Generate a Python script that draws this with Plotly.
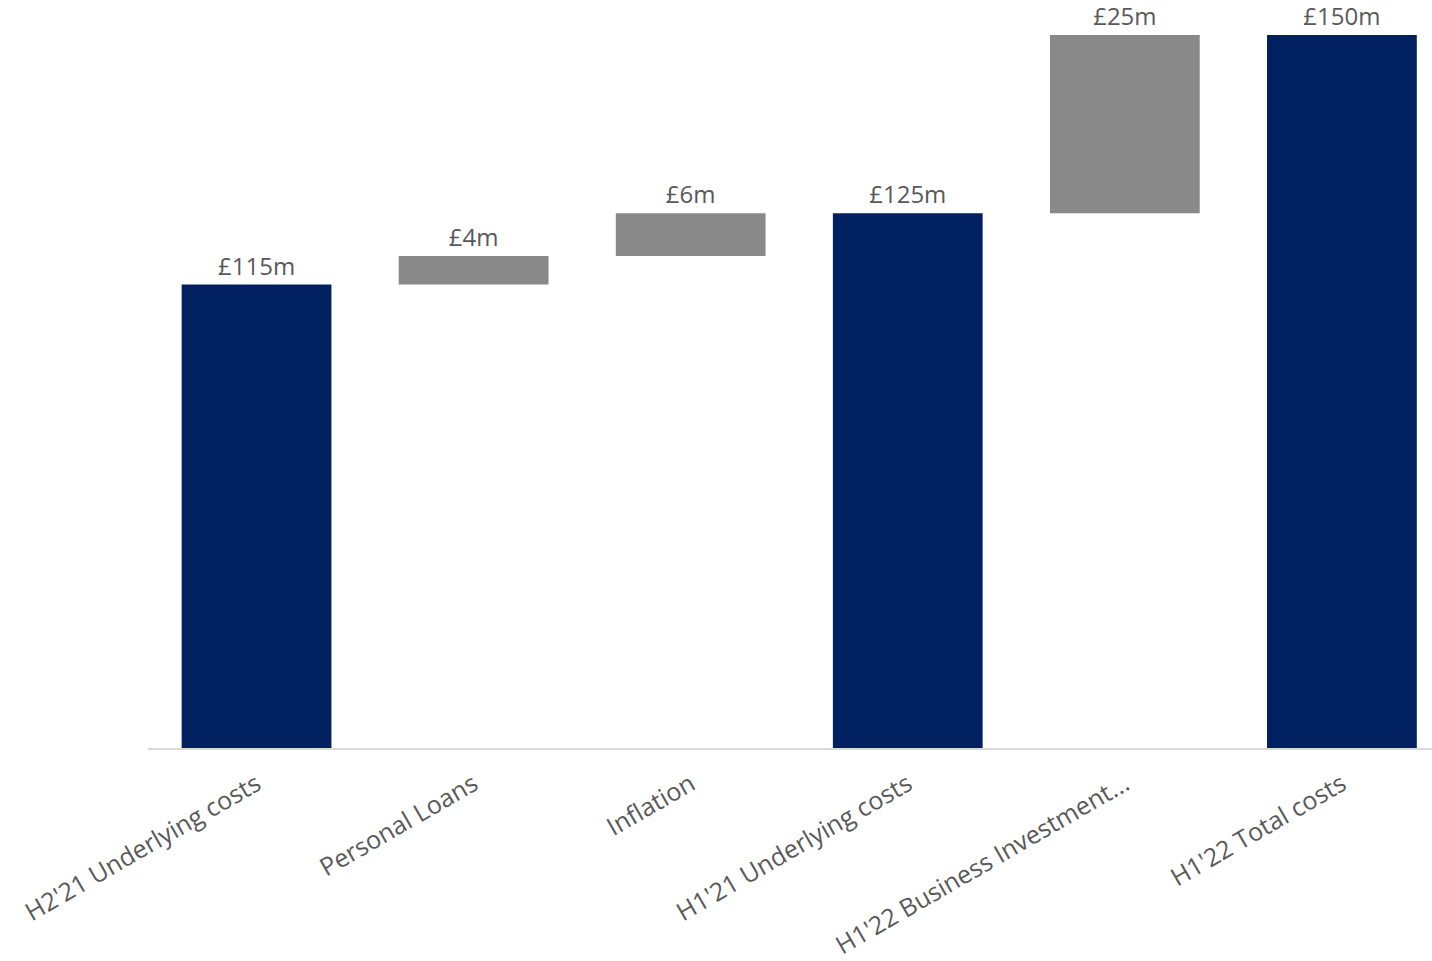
import plotly.graph_objects as go

# Cost bridge: H2'21 underlying costs to H1'22 total costs (£m)
categories = [
    "H2'21 Underlying costs",
    "Personal Loans",
    "Inflation",
    "H1'21 Underlying costs",
    "H1'22 Business Investment...",
    "H1'22 Total costs",
]
measures = ["absolute", "relative", "relative", "absolute", "relative", "absolute"]
values = [115, 4, 6, 125, 25, 150]
labels = [f"£{v}m" for v in values]

NAVY = "#002060"
GREY = "#898989"
TEXT = "#595959"
FONT = "Open Sans, Segoe UI, Noto Sans, sans-serif"

fig = go.Figure(
    go.Waterfall(
        x=categories,
        y=values,
        measure=measures,
        text=labels,
        textposition="outside",
        textfont=dict(family=FONT, size=24, color=TEXT),
        cliponaxis=False,
        increasing=dict(marker=dict(color=GREY)),
        decreasing=dict(marker=dict(color=GREY)),
        totals=dict(marker=dict(color=NAVY)),
        connector=dict(visible=False),
        hoverinfo="skip",
        showlegend=False,
    )
)

fig.update_layout(
    width=1432,
    height=961,
    margin=dict(l=148, r=0, t=35, b=213),
    paper_bgcolor="white",
    plot_bgcolor="white",
    waterfallgap=0.31,
    font=dict(family=FONT, color=TEXT),
    xaxis=dict(
        type="category",
        range=[-0.5, 5.415],
        automargin=False,
        tickangle=-30,
        tickfont=dict(family=FONT, size=25, color=TEXT),
        showline=True,
        linecolor="#D9D9D9",
        linewidth=2,
        showgrid=False,
        ticks="",
        ticklabelstandoff=10,
        layer="above traces",
    ),
    yaxis=dict(
        range=[50, 150],
        automargin=False,
        showgrid=False,
        zeroline=False,
        showticklabels=False,
        showline=False,
        ticks="",
    ),
)

fig.write_html("out.html")
